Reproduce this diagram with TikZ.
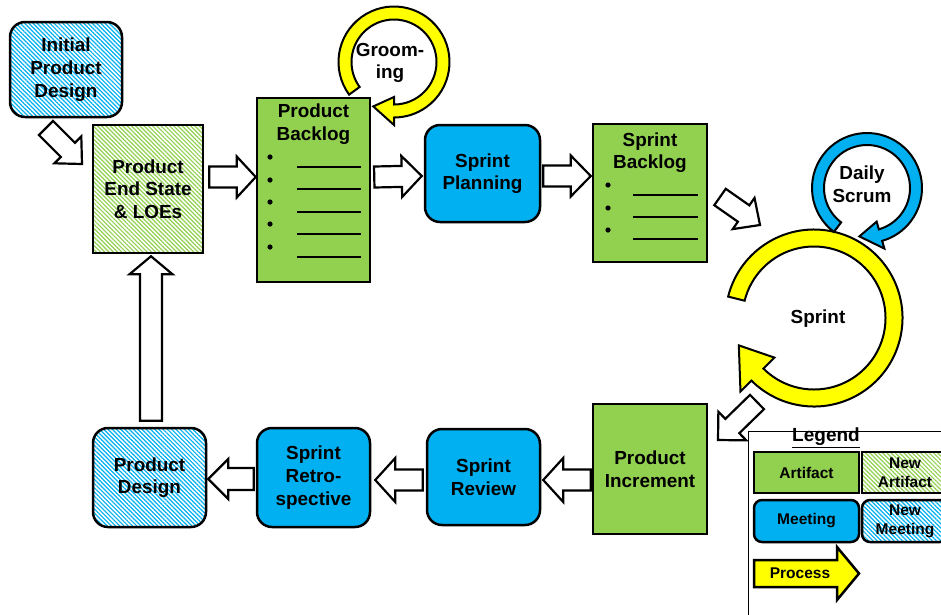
\documentclass[tikz,border=0pt]{standalone}
\usepackage{fontspec}
\setmainfont{Liberation Sans}
\usetikzlibrary{calc,patterns.meta}
\definecolor{artgreen}{HTML}{92D050}
\definecolor{meetblue}{HTML}{00B0F0}
\definecolor{procyellow}{HTML}{FFFF00}
\tikzset{
  txt/.style={font=\bfseries\fontsize{18.9}{22.7}\selectfont, align=center, inner sep=0pt},
  ltxt/.style={font=\bfseries\fontsize{15.5}{19}\selectfont, align=center, inner sep=0pt},
  outl/.style={draw=black, line width=2.5pt, inner sep=0pt},
  artifact/.style={outl, fill=artgreen},
  meeting/.style={outl, fill=meetblue, rounded corners=15pt},
  newartifact/.style={outl, preaction={fill=white}, pattern={Lines[angle=-45,distance=3pt,line width=1.2pt]}, pattern color=artgreen},
  newmeeting/.style={outl, preaction={fill=white}, pattern={Lines[angle=-45,distance=3pt,line width=1.2pt]}, pattern color=meetblue, rounded corners=15pt},
  barrow/.style={draw=black, line width=2.2pt, fill=white, line join=miter},
  ringline/.style={draw=black, line width=2pt, line join=miter},
  listline/.style={line width=1.6pt},
}
% block arrow: from, to, shaft half width, head half width, head length, style
\newcommand\blockarrow[6]{%
  \draw[#6] ($(#1)!#3!-90:(#2)$)
    -- ($($(#2)!#5!(#1)$)!#3!90:(#1)$)
    -- ($($(#2)!#5!(#1)$)!#4!90:(#1)$)
    -- (#2)
    -- ($($(#2)!#5!(#1)$)!#4!-90:(#1)$)
    -- ($($(#2)!#5!(#1)$)!#3!-90:(#1)$)
    -- ($(#1)!#3!90:(#2)$) -- cycle;}
% ring arrow: center, r mid, half band, head half width, start angle, head base angle, tip angle, fill
\newcommand\ringarrow[8]{%
  \draw[ringline, fill=#8, shift={#1}] (#5:{#2+#3}) arc[start angle=#5, end angle=#6, radius={#2+#3}]
    -- (#6:{#2+#4}) -- (#7:#2) -- (#6:{#2-#4}) -- (#6:{#2-#3})
    arc[start angle=#6, end angle=#5, radius={#2-#3}] -- cycle;}
\begin{document}
\begin{tikzpicture}[x=1pt,y=1pt]
\useasboundingbox (0,0) rectangle (941,-614);
\clip (0,0) rectangle (941,-614);

% loops
\ringarrow{(394,-62)}{49}{6.5}{14}{216}{-90}{-115}{procyellow}
\node[txt] (groomtxt) at (390,-63) {Groom-\\ing};
\ringarrow{(814,-318)}{80}{8.5}{24}{166}{-135}{-160}{procyellow}
\node[txt] (sprinttxt) at (818,-319) {Sprint};
\ringarrow{(867,-188)}{49}{6}{14}{233}{-74}{-99}{meetblue}
\node[txt] (dailytxt) at (862,-184) {Daily\\Scrum};

% boxes
\node[newmeeting, minimum width=112pt, minimum height=95pt] (init) at (66,-69.5) {};
\node[txt] (inittxt) at (init.center) {Initial\\Product\\Design};
\node[newartifact, minimum width=110pt, minimum height=128pt] (es) at (148,-189) {};
\node[txt] (estxt) at (es.center) {Product\\End State\\\& LOEs};
\node[artifact, minimum width=113pt, minimum height=184pt] (pb) at (313.5,-190) {};
\node[txt] (pbtxt) at (313.5,-124) {Product\\Backlog};
\node[meeting, minimum width=115pt, minimum height=97pt] (sp) at (482.5,-173.5) {};
\node[txt] (sptxt) at (sp.center) {Sprint\\Planning};
\node[artifact, minimum width=114pt, minimum height=138pt] (sb) at (650,-193) {};
\node[txt] (sbtxt) at (650,-152.5) {Sprint\\Backlog};
\node[artifact, minimum width=114pt, minimum height=130pt] (pi) at (650,-469) {};
\node[txt] (pitxt) at (pi.center) {Product\\Increment};
\node[meeting, minimum width=113pt, minimum height=96pt] (sr) at (483.5,-477) {};
\node[txt] (srtxt) at (sr.center) {Sprint\\Review};
\node[meeting, minimum width=113pt, minimum height=99pt] (sret) at (313.5,-477.5) {};
\node[txt] (srettxt) at (sret.center) {Sprint\\Retro-\\spective};
\node[newmeeting, minimum width=113pt, minimum height=99pt] (pd) at (149.5,-477.5) {};
\node[txt] (pdtxt) at (pd.center) {Product\\Design};

% list bullets
\foreach \yb/\yl in {157/167,180/189,202/212,224/234,247/257}{
  \fill (270,-\yb) circle (2.6);
  \draw[listline] (297,-\yl) -- (361,-\yl);
}
\foreach \yb/\yl in {185/195,208/217,230/239}{
  \fill (608,-\yb) circle (2.6);
  \draw[listline] (633,-\yl) -- (698,-\yl);
}

% arrow end points
\coordinate (a1s) at (46,-128);   \coordinate (a1e) at (82,-164);
\coordinate (a2s) at ($(es.east)+(5,12)$); \coordinate (a2e) at ($(pb.west)+(0,13)$);
\coordinate (a3s) at ($(pb.east)+(3,13)$); \coordinate (a3e) at ($(sp.west)+(-2,-2.5)$);
\coordinate (a4s) at ($(sp.east)+(2,-2.5)$); \coordinate (a4e) at ($(sb.west)+(-1,17)$);
\coordinate (a5s) at (720,-197);  \coordinate (a5e) at (760,-225);
\coordinate (a6s) at (757,-402);  \coordinate (a6e) at (718,-440);
\coordinate (a7s) at ($(pi.west)+(-1,-11)$); \coordinate (a7e) at ($(sr.east)+(2,-3)$);
\coordinate (a8s) at ($(sr.west)+(-3,-3)$); \coordinate (a8e) at ($(sret.east)+(4,-2.5)$);
\coordinate (a9s) at ($(sret.west)+(-2,-1.5)$); \coordinate (a9e) at ($(pd.east)+(1,-1.5)$);
\coordinate (a10s) at ($(pd.north)+(1.5,6)$); \coordinate (a10e) at ($(es.south)+(3,-2)$);

\blockarrow{a1s}{a1e}{10pt}{19pt}{20pt}{barrow}
\blockarrow{a2s}{a2e}{10.5pt}{20.5pt}{19pt}{barrow}
\blockarrow{a3s}{a3e}{10.5pt}{20.5pt}{20pt}{barrow}
\blockarrow{a4s}{a4e}{10.5pt}{20.5pt}{20pt}{barrow}
\blockarrow{a5s}{a5e}{10pt}{19pt}{20pt}{barrow}
\blockarrow{a7s}{a7e}{10.5pt}{22pt}{20pt}{barrow}
\blockarrow{a8s}{a8e}{10.5pt}{22pt}{20pt}{barrow}
\blockarrow{a9s}{a9e}{11pt}{20pt}{20pt}{barrow}
\blockarrow{a10s}{a10e}{11pt}{21.5pt}{18pt}{barrow}

% legend
\node[draw=black, line width=1pt, fill=white, minimum width=220pt, minimum height=220pt, inner sep=0pt, anchor=north west] (legend) at (748,-431) {};
\blockarrow{a6s}{a6e}{10pt}{20pt}{20pt}{barrow}
\node[font=\bfseries\fontsize{19}{22}\selectfont, inner sep=0pt] (legtitle) at (826,-438) {\underline{Legend}};
\node[artifact, minimum width=105pt, minimum height=41pt] (lart) at (806.5,-472.5) {};
\node[ltxt] (larttxt) at (lart.center) {Artifact};
\node[newartifact, minimum width=86pt, minimum height=41pt] (lnewart) at (905,-472.5) {};
\node[ltxt] (lnewarttxt) at (lnewart.center) {New\\Artifact};
\node[meeting, rounded corners=8pt, minimum width=105pt, minimum height=42pt] (lmeet) at (806.5,-521) {};
\node[ltxt] (lmeettxt) at (lmeet.center) {Meeting};
\node[newmeeting, rounded corners=8pt, minimum width=86pt, minimum height=42pt] (lnewmeet) at (905,-521) {};
\node[ltxt] (lnewmeettxt) at (lnewmeet.center) {New\\Meeting};
\coordinate (lps) at (754,-573.5); \coordinate (lpe) at (859,-573.5);
\blockarrow{lps}{lpe}{13.5pt}{26.5pt}{22pt}{barrow, fill=procyellow, line width=2.5pt}
\node[ltxt] (lproctxt) at (800,-573) {Process};
\end{tikzpicture}
\end{document}
